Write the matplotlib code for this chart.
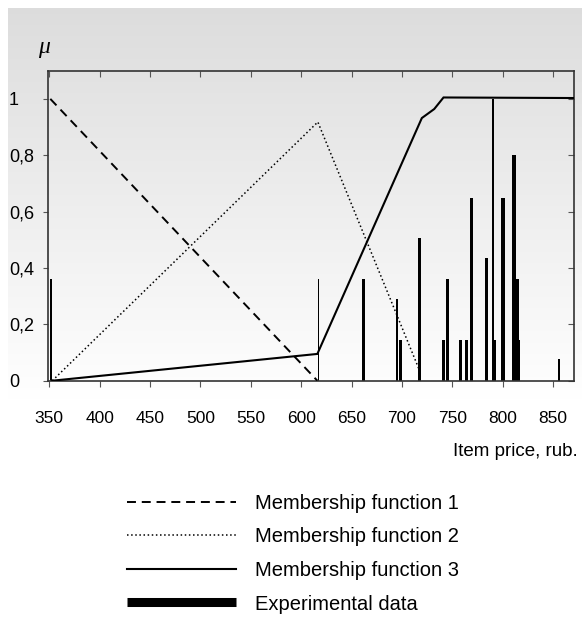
import numpy as np
import matplotlib
matplotlib.use("Agg")
import matplotlib.pyplot as plt
from matplotlib.lines import Line2D

# ---- data ----
mf1_x = [351, 616]
mf1_y = [1.0, 0.0]
mf2_x = [353, 616.5, 717]
mf2_y = [0.0, 0.918, 0.04]
mf3_x = [353, 616, 719.7, 732, 741.2, 871]
mf3_y = [0.0, 0.095, 0.932, 0.964, 1.005, 1.003]

bar_x = [352, 617, 661.5, 695, 698.5, 717.4, 741.2, 745.2, 758, 764, 769,
         783.8, 790.5, 792.5, 800.4, 811.3, 814.6, 816.3, 856]
bar_h = [0.36, 0.36, 0.36, 0.29, 0.145, 0.505, 0.145, 0.36, 0.145, 0.145, 0.65,
         0.437, 1.0, 0.145, 0.65, 0.80, 0.36, 0.145, 0.077]
bar_w = [2, 1.4, 2.8, 2.2, 2.2, 2.2, 2.8, 2.8, 2.4, 2.8, 2.8,
         2.8, 2.2, 1.8, 4, 4, 2.8, 2.2, 2.2]

x_ticks = list(range(350, 851, 50))
y_ticks = [0, 0.2, 0.4, 0.6, 0.8, 1.0]
y_labels = ["0", "0,2", "0,4", "0,6", "0,8", "1"]
legend_labels = ["Membership function 1", "Membership function 2",
                 "Membership function 3", "Experimental data"]

W, H = 582, 619
fig = plt.figure(figsize=(W / 100, H / 100), dpi=100)
fig.patch.set_facecolor("white")
FONT = ["Liberation Sans", "DejaVu Sans"]

def px(v):
    return v * 0.72

# gradient background panel
g_top, g_bot = 8, 400
bg = fig.add_axes([8 / W, 1 - g_bot / H, (W - 8) / W, (g_bot - g_top) / H], zorder=0)
grad = np.linspace(0.865, 1.0, 256).reshape(-1, 1)
bg.imshow(np.dstack([grad, grad, grad]), aspect="auto", extent=[0, 1, 0, 1],
          interpolation="bilinear")
bg.set_axis_off()

# main axes
L, R, T, B = 48.3, 574.3, 70.7, 380.7
ax = fig.add_axes([L / W, 1 - B / H, (R - L) / W, (B - T) / H], zorder=2)
ax.patch.set_alpha(0)
ax.set_xlim(349, 871)
ax.set_ylim(0, 1.1)

ax.bar(bar_x, bar_h, width=bar_w, color="black", linewidth=0, zorder=2)
ax.plot(mf1_x, mf1_y, color="black", lw=1.4, linestyle=(0, (4.6, 3.0)),
        zorder=3)
ax.plot(mf2_x, mf2_y, color="black", lw=1.1, linestyle=(0, (1, 1.7)),
        zorder=3)
ax.plot(mf3_x, mf3_y, color="black", lw=1.5, zorder=3, solid_joinstyle="miter")

for s in ax.spines.values():
    s.set_color("#333333")
    s.set_linewidth(1.2)

ax.set_xticks(x_ticks)
ax.set_xticklabels([str(v) for v in x_ticks], family=FONT, fontsize=12.5)
ax.tick_params(axis="x", direction="out", length=px(6), width=0.8,
               color="#555555", pad=px(24))
ax.set_yticks(y_ticks)
ax.set_yticklabels(y_labels, family=FONT, fontsize=13)
ax.tick_params(axis="y", direction="out", length=px(5), width=0.8,
               color="#555555", pad=px(34.5))
for lab in ax.get_yticklabels():
    lab.set_horizontalalignment("left")

sx = ax.secondary_xaxis("top")
sx.set_xticks(x_ticks)
sx.set_xticklabels([])
sx.tick_params(direction="in", length=px(6), width=0.8, color="#555555")
sx.spines["top"].set_visible(False)
sy = ax.secondary_yaxis("right")
sy.set_yticks(y_ticks)
sy.set_yticklabels([])
sy.tick_params(direction="in", length=px(6), width=0.8, color="#555555")
sy.spines["right"].set_visible(False)

# mu label and x label
fig.text(44 / W, 1 - 47 / H, "μ", family=["Liberation Serif", "DejaVu Serif"],
         style="italic", fontsize=17, ha="center", va="center")
fig.text(578 / W, 1 - 456 / H, "Item price, rub.", family=FONT, fontsize=13.5,
         ha="right", va="baseline")

handles = [
    Line2D([], [], color="black", lw=1.4, linestyle=(0, (4.6, 3.0))),
    Line2D([], [], color="black", lw=1.1, linestyle=(0, (1, 1.7))),
    Line2D([], [], color="black", lw=1.5),
    Line2D([], [], color="black", lw=6.5, solid_capstyle="butt"),
]
leg = fig.legend(handles, legend_labels, loc="upper left",
                 bbox_to_anchor=(127 / W, 1 - 494 / H),
                 frameon=False, prop={"family": FONT, "size": 14.5},
                 handlelength=5.4, handletextpad=0.95, labelspacing=0.72,
                 borderpad=0, borderaxespad=0)

fig.savefig("out.png", dpi=100)
